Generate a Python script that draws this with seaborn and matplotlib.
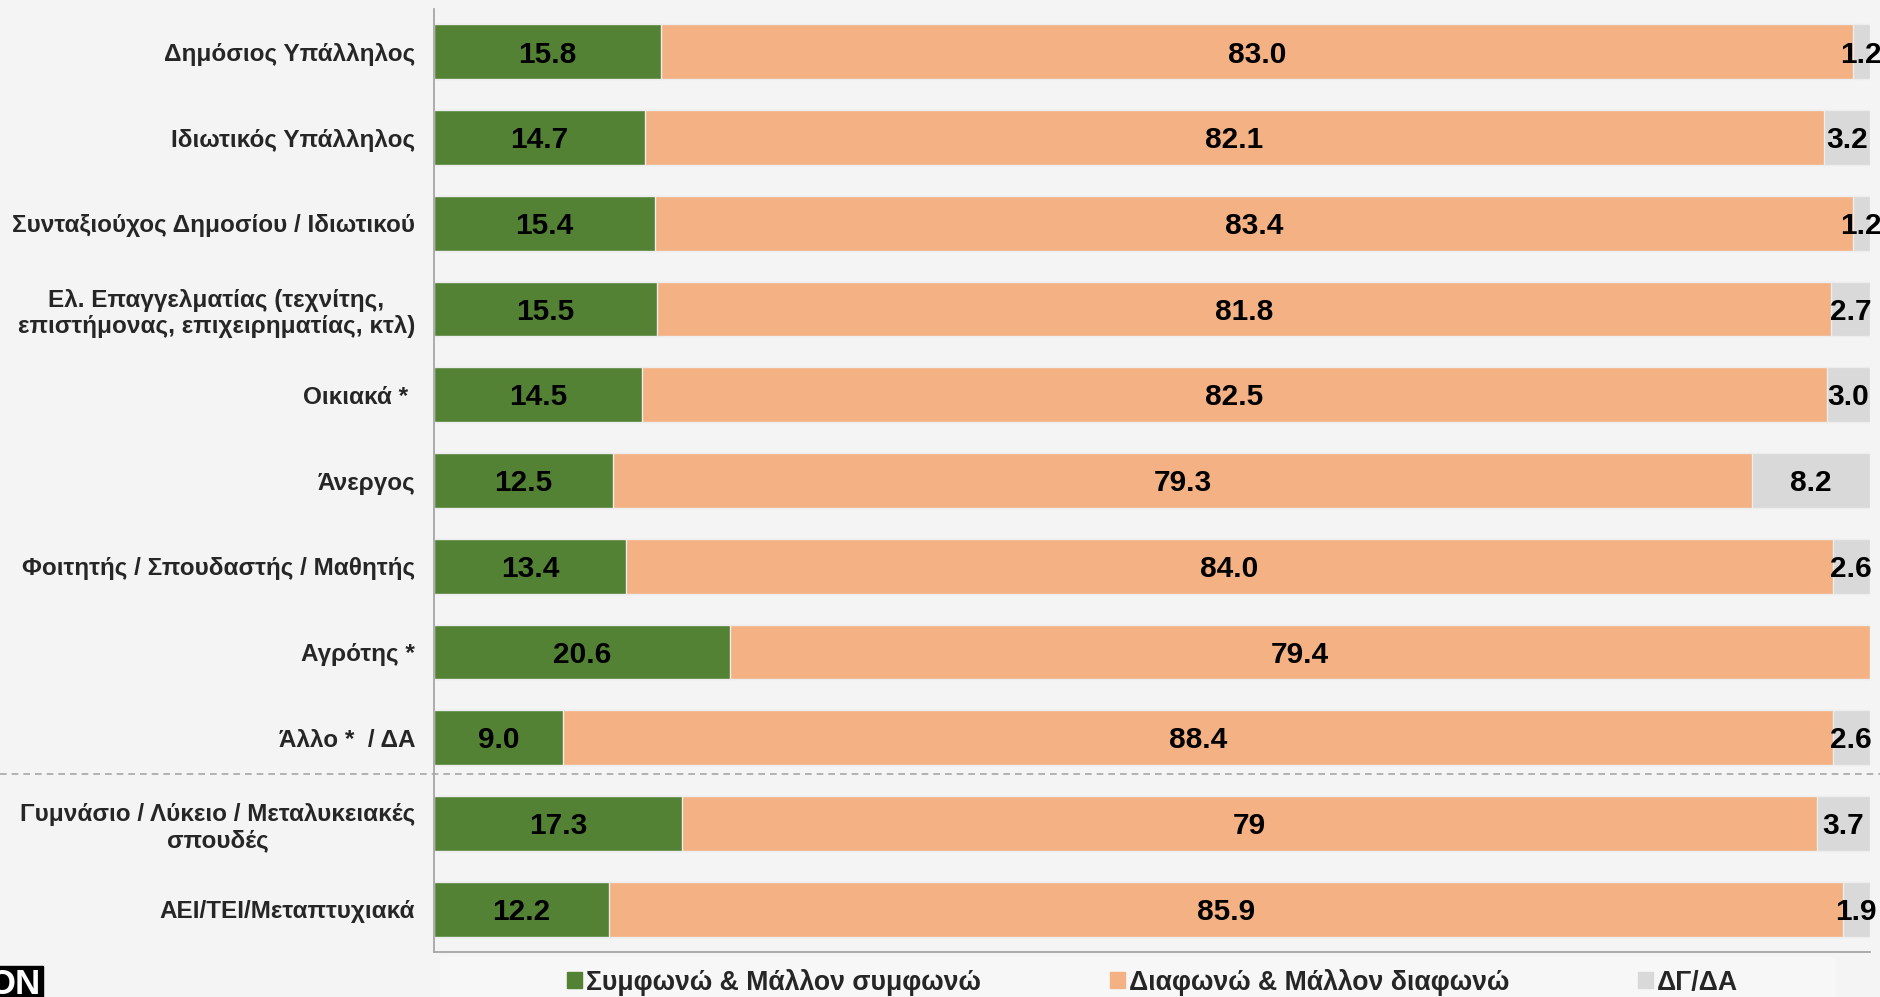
import matplotlib.pyplot as plt
import matplotlib.patches as mpatches
import matplotlib.transforms as mtransforms
from matplotlib.lines import Line2D
import pandas as pd
import seaborn as sns

# data
categories = [
    'Δημόσιος Υπάλληλος',
    'Ιδιωτικός Υπάλληλος',
    'Συνταξιούχος Δημοσίου / Ιδιωτικού',
    'Ελ. Επαγγελματίας (τεχνίτης,\nεπιστήμονας, επιχειρηματίας, κτλ)',
    'Οικιακά * ',
    'Άνεργος',
    'Φοιτητής / Σπουδαστής / Μαθητής',
    'Αγρότης *',
    'Άλλο *  / ΔΑ',
    'Γυμνάσιο / Λύκειο / Μεταλυκειακές\nσπουδές',
    'ΑΕΙ/ΤΕΙ/Μεταπτυχιακά',
]
agree = [15.8, 14.7, 15.4, 15.5, 14.5, 12.5, 13.4, 20.6, 9.0, 17.3, 12.2]
disagree = [83.0, 82.1, 83.4, 81.8, 82.5, 79.3, 84.0, 79.4, 88.4, 79.0, 85.9]
dk = [1.2, 3.2, 1.2, 2.7, 3.0, 8.2, 2.6, 0.0, 2.6, 3.7, 1.9]
agree_labels = ['15.8', '14.7', '15.4', '15.5', '14.5', '12.5', '13.4', '20.6', '9.0', '17.3', '12.2']
disagree_labels = ['83.0', '82.1', '83.4', '81.8', '82.5', '79.3', '84.0', '79.4', '88.4', '79', '85.9']
dk_labels = ['1.2', '3.2', '1.2', '2.7', '3.0', '8.2', '2.6', '', '2.6', '3.7', '1.9']
series_names = ['Συμφωνώ & Μάλλον συμφωνώ', 'Διαφωνώ & Μάλλον διαφωνώ', 'ΔΓ/ΔΑ']
colors = ['#548235', '#F4B183', '#D9D9D9']
bg = '#F4F4F4'

sns.set_theme(style='white')
plt.rcParams['font.family'] = ['Liberation Sans', 'DejaVu Sans']

df = pd.DataFrame({'category': categories, 'agree': agree, 'disagree': disagree, 'dk': dk})
df['cum2'] = df['agree'] + df['disagree']
df['cum3'] = df['cum2'] + df['dk']

W, H = 1881, 997
fig = plt.figure(figsize=(W / 100, H / 100), dpi=100, facecolor=bg)
ax = fig.add_axes([434 / W, 45 / H, (1870 - 434) / W, 943 / H])
ax.set_facecolor(bg)

# stacked bars: draw cumulative totals, largest first
for col, color in zip(['cum3', 'cum2', 'agree'], colors[::-1]):
    sns.barplot(
        data=df, x=col, y='category', color=color, orient='h',
        width=0.64, saturation=1, errorbar=None, ax=ax,
        edgecolor='#EDEDED', linewidth=1,
    )

# value labels centred in each segment (baseline shifted so digits sit mid-bar)
for i, row in df.iterrows():
    centers = [row['agree'] / 2, row['agree'] + row['disagree'] / 2, row['cum2'] + row['dk'] / 2]
    for x, lab in zip(centers, [agree_labels[i], disagree_labels[i], dk_labels[i]]):
        if lab:
            ax.text(x, i + 0.125, lab, ha='center', va='baseline', fontsize=21.5,
                    fontweight='bold', color='black', clip_on=False)

ax.set_xlim(0, 100)
ax.set_ylim(10.5, -0.5)
ax.set_xticks([])
ax.set_xlabel('')
ax.set_ylabel('')
ax.tick_params(axis='y', left=False, pad=7.5)
for lab in ax.get_yticklabels():
    lab.set_fontsize(17.5)
    lab.set_fontweight('bold')
    lab.set_multialignment('center')
for side in ['top', 'right']:
    ax.spines[side].set_visible(False)
for side in ['left', 'bottom']:
    ax.spines[side].set_color('#A6A6A6')
    ax.spines[side].set_linewidth(1.3)

# dashed separator between occupation and education groups
trans = mtransforms.blended_transform_factory(fig.transFigure, ax.transData)
fig.add_artist(Line2D([0, 1], [8.42, 8.42], transform=trans, color='#A6A6A6',
                      lw=1.2, ls=(0, (4, 3))))

# lighter legend band
fig.add_artist(mpatches.Rectangle((440 / W, 0), (1835 - 440) / W, 40 / H,
                                  transform=fig.transFigure, color='#F7F7F7', zorder=0))

handles = [mpatches.Patch(color=c, label=n) for c, n in zip(colors, series_names)]
fig.legend(
    handles=handles, loc='center left', bbox_to_anchor=(543 / W, 1 - 982 / H),
    ncol=3, frameon=False, handlelength=0.55, handleheight=0.55,
    handletextpad=0.15, columnspacing=4.85,
    prop={'weight': 'bold', 'size': 19.2},
)

# cut-off logo at the bottom left
fig.text(-0.006, -0.004, 'ON', ha='left', va='bottom', fontsize=25, fontweight='bold',
         color='white', bbox=dict(facecolor='black', edgecolor='black', pad=1.5))

fig.savefig('out.png', dpi=100, facecolor=bg)
